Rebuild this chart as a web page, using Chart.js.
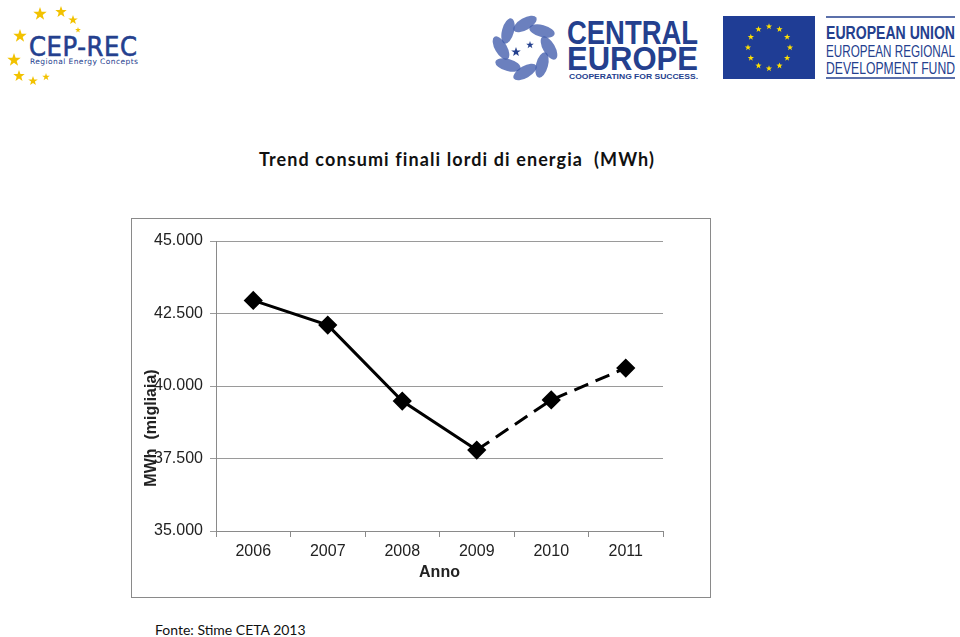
<!DOCTYPE html>
<html>
<head>
<meta charset="utf-8">
<script src="https://cdn.jsdelivr.net/npm/chart.js@4"></script>
<style>
  body { margin: 0; width: 960px; height: 637px; background: #fff; position: relative; overflow: hidden; font-family: Lato, "Open Sans", sans-serif; }
  .abs { position: absolute; }
  #title { left: 0; width: 914px; top: 148px; text-align: center; font: bold 18px Lato, sans-serif; letter-spacing: 1.1px; color: #111; white-space: pre; }
  #frame { left: 131px; top: 218px; width: 578px; height: 378px; border: 1px solid #8a8a8a; }
  #source { left: 155px; top: 621px; font: 14px Lato, sans-serif; color: #111; }
</style>
</head>
<body>
<!-- logos -->
<svg class="abs" style="left:0;top:0" width="960" height="95" id="logos">
  <g id="cepStars" fill="#f2c200"></g>
  <text x="29" y="56" font-family="DejaVu Sans Condensed, DejaVu Sans" font-size="27" fill="#24408e" stroke="#24408e" stroke-width="0.6" textLength="108">CEP-REC</text>
  <text x="30" y="64" font-family="DejaVu Sans" font-size="7.5" fill="#24408e" textLength="108">Regional Energy Concepts</text>

  <g id="swirl"></g>
  <text x="567" y="44" font-family="Liberation Sans Narrow, Liberation Sans" font-weight="bold" font-size="33" fill="#24408e" textLength="131" lengthAdjust="spacingAndGlyphs">CENTRAL</text>
  <text x="567" y="70" font-family="Liberation Sans Narrow, Liberation Sans" font-weight="bold" font-size="33" fill="#24408e" textLength="131" lengthAdjust="spacingAndGlyphs">EUROPE</text>
  <text x="569" y="79" font-family="Liberation Sans" font-weight="bold" font-size="8" fill="#24408e" textLength="129" lengthAdjust="spacingAndGlyphs">COOPERATING FOR SUCCESS.</text>

  <rect x="723" y="16" width="92" height="63" fill="#1f3d95"></rect>
  <g id="euStars" fill="#ffe100"></g>
  <line x1="826" y1="17" x2="955" y2="17" stroke="#24408e" stroke-width="1.5"></line>
  <line x1="826" y1="78" x2="955" y2="78" stroke="#24408e" stroke-width="1.5"></line>
  <text x="826" y="39" font-family="Liberation Sans Narrow, Liberation Sans" font-weight="bold" font-size="18" fill="#24408e" textLength="129" lengthAdjust="spacingAndGlyphs">EUROPEAN UNION</text>
  <text x="826" y="57" font-family="Liberation Sans Narrow, Liberation Sans" font-size="17" fill="#24408e" textLength="129" lengthAdjust="spacingAndGlyphs">EUROPEAN REGIONAL</text>
  <text x="826" y="74" font-family="Liberation Sans Narrow, Liberation Sans" font-size="17" fill="#24408e" textLength="129" lengthAdjust="spacingAndGlyphs">DEVELOPMENT FUND</text>
</svg>

<div id="title" class="abs">Trend consumi finali lordi di energia  (MWh)</div>
<div id="frame" class="abs"><canvas id="chart" width="578" height="378"></canvas></div>
<div id="source" class="abs">Fonte: Stime CETA 2013</div>

<script>
// Chart data
const years = ['2006', '2007', '2008', '2009', '2010', '2011'];
const consumi = [42950, 42100, 39480, 37790, 39520, 40620];
const yTicks = [35000, 37500, 40000, 42500, 45000];
const estimateFrom = 3; // from 2009 on the line is dashed (stime)

// star helper for the logos
function star(cx, cy, r) {
    let pts = [];
    for (let i = 0; i < 10; i++) {
        const a = -Math.PI / 2 + i * Math.PI / 5;
        const rr = i % 2 ? r * 0.4 : r;
        pts.push((cx + rr * Math.cos(a)).toFixed(1) + ',' + (cy + rr * Math.sin(a)).toFixed(1));
    }
    return '<polygon points="' + pts.join(' ') + '"/>';
}
let s = '';
[[40, 14, 7], [61, 12, 6], [73, 20, 5], [20, 36, 7], [14, 60, 7], [19, 76, 6], [33, 81, 5], [46, 77, 4], [78, 30, 3]].forEach(p => s += star(p[0], p[1], p[2]));
document.getElementById('cepStars').innerHTML = s;
s = '';
for (let i = 0; i < 12; i++) {
    const a = i * Math.PI / 6;
    s += star(769 + 21 * Math.cos(a), 47.5 + 21 * Math.sin(a), 3.3);
}
document.getElementById('euStars').innerHTML = s;
s = '';
for (let i = 0; i < 8; i++) {
    const a = i * Math.PI / 4;
    const cx = 525 + 24 * Math.cos(a), cy = 48 + 24 * Math.sin(a);
    s += '<ellipse cx="' + cx.toFixed(1) + '" cy="' + cy.toFixed(1) + '" rx="13" ry="6" fill="#3a55a8" opacity="0.75" transform="rotate(' + (i * 45 + 60) + ' ' + cx.toFixed(1) + ' ' + cy.toFixed(1) + ')"/>';
}
s += star(516, 52, 5) + star(530, 45, 4);
document.getElementById('swirl').innerHTML = s;
document.querySelector('#swirl').setAttribute('fill', '#24408e');

function fmt(v) {
    return String(v).replace(/\B(?=(\d{3})+(?!\d))/g, '.');
}

// axis titles drawn at the spots used in the original sheet
const axisTitles = {
    id: 'axisTitles',
    afterDraw(chart) {
        const ctx = chart.ctx;
        ctx.save();
        ctx.fillStyle = '#222';
        ctx.font = 'bold 16px "Liberation Sans", Arial, sans-serif';
        ctx.textAlign = 'center';
        ctx.textBaseline = 'middle';
        ctx.fillText('Anno', (chart.chartArea.left + chart.chartArea.right) / 2, 354);
        ctx.translate(20, 209);
        ctx.rotate(-Math.PI / 2);
        ctx.fillText('MWh  (migliaia)', 0, 0);
        ctx.restore();
    }
};

new Chart(document.getElementById('chart').getContext('2d'), {
    type: 'line',
    data: {
        labels: years,
        datasets: [{
            data: consumi,
            borderColor: '#000',
            backgroundColor: '#000',
            borderWidth: 3,
            pointStyle: 'rectRot',
            pointRadius: 7.5,
            pointHoverRadius: 7.5,
            tension: 0,
            segment: {
                borderDash: ctx => ctx.p0DataIndex >= estimateFrom ? [15, 8] : undefined
            }
        }]
    },
    options: {
        responsive: false,
        animation: false,
        layout: { padding: { top: 22, right: 47, left: 0, bottom: 0 } },
        plugins: { legend: { display: false }, tooltip: { enabled: false } },
        scales: {
            x: {
                offset: true,
                grid: { offset: true, drawOnChartArea: false, color: '#8a8a8a', tickLength: 6 },
                border: { color: '#8a8a8a' },
                ticks: { color: '#222', font: { family: '"Liberation Sans", Arial', size: 16 }, padding: 5 },
                afterFit: s => { s.height = 66; }
            },
            y: {
                min: 35000,
                max: 45000,
                afterBuildTicks: s => { s.ticks = yTicks.map(v => ({ value: v })); },
                grid: { color: '#9a9a9a', tickLength: 6 },
                border: { color: '#8a8a8a' },
                ticks: { color: '#222', font: { family: '"Liberation Sans", Arial', size: 16 }, padding: 7, callback: v => fmt(v) },
                afterFit: s => { s.width = 84; }
            }
        }
    },
    plugins: [axisTitles]
});
</script>
</body>
</html>
